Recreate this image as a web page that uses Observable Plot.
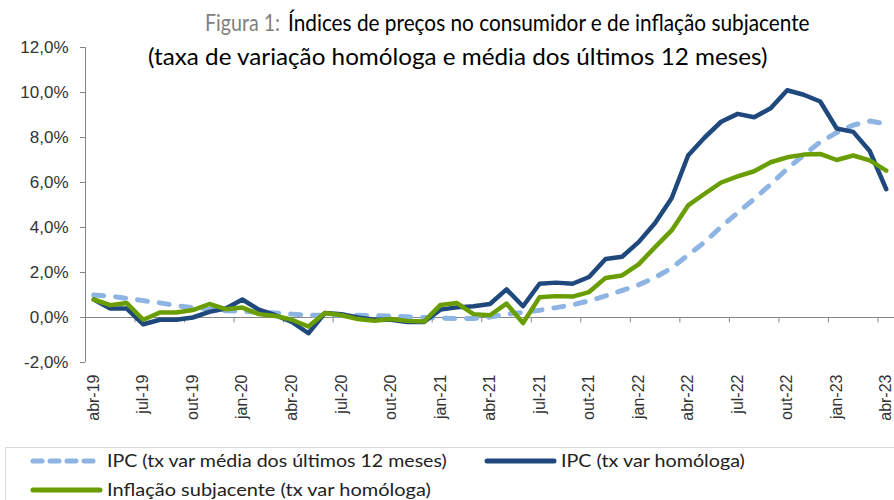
<!DOCTYPE html>
<html>
<head>
<meta charset="utf-8">
<script src="https://cdn.jsdelivr.net/npm/d3@7"></script>
<script src="https://cdn.jsdelivr.net/npm/@observablehq/plot@0.6"></script>
<style>
  body { margin: 0; background: #fff; }
  #wrap { position: relative; width: 894px; height: 500px; overflow: hidden; }
  #chart, #over { position: absolute; left: 0; top: 0; }
</style>
</head>
<body>
<div id="wrap"><div id="chart"></div><svg id="over" width="894" height="500"></svg></div>
<script>
const meses = ["abr-19","mai-19","jun-19","jul-19","ago-19","set-19","out-19","nov-19","dez-19",
  "jan-20","fev-20","mar-20","abr-20","mai-20","jun-20","jul-20","ago-20","set-20","out-20","nov-20","dez-20",
  "jan-21","fev-21","mar-21","abr-21","mai-21","jun-21","jul-21","ago-21","set-21","out-21","nov-21","dez-21",
  "jan-22","fev-22","mar-22","abr-22","mai-22","jun-22","jul-22","ago-22","set-22","out-22","nov-22","dez-22",
  "jan-23","fev-23","mar-23","abr-23"];

const ipcMedia12 = [1.0,0.95,0.85,0.75,0.65,0.53,0.44,0.37,0.3,
  0.28,0.24,0.2,0.15,0.1,0.1,0.1,0.1,0.08,0.06,0.03,0.0,
  -0.03,-0.05,-0.04,0.02,0.15,0.22,0.32,0.44,0.56,0.74,0.96,1.2,
  1.45,1.78,2.2,2.78,3.35,4.03,4.66,5.27,5.92,6.61,7.22,7.8,
  8.22,8.55,8.73,8.6];

const ipcHomologa = [0.8,0.4,0.4,-0.3,-0.1,-0.1,0.0,0.25,0.4,
  0.8,0.35,0.1,-0.2,-0.7,0.2,0.15,0.0,-0.1,-0.1,-0.2,-0.2,
  0.35,0.45,0.5,0.6,1.25,0.5,1.5,1.55,1.5,1.8,2.6,2.7,
  3.35,4.2,5.3,7.2,8.0,8.7,9.05,8.9,9.3,10.1,9.9,9.6,
  8.4,8.25,7.4,5.7];

const inflacaoSubjacente = [0.8,0.55,0.64,-0.1,0.22,0.22,0.33,0.6,0.37,
  0.44,0.15,0.07,-0.1,-0.4,0.2,0.1,-0.07,-0.15,-0.07,-0.15,-0.18,
  0.56,0.64,0.15,0.1,0.62,-0.25,0.9,0.95,0.93,1.13,1.76,1.87,
  2.36,3.13,3.87,4.98,5.5,6.0,6.27,6.5,6.9,7.12,7.24,7.27,
  7.0,7.2,6.98,6.53];

const yTicks = [-2,0,2,4,6,8,10,12];
const seriesNames = ["IPC (tx var média dos últimos 12 meses)", "IPC (tx var homóloga)", "Inflação subjacente (tx var homóloga)"];
const titleLine1a = "Figura 1:";
const titleLine1b = "Índices de preços no consumidor e de inflação subjacente";
const titleLine2 = "(taxa de variação homóloga e média dos últimos 12 meses)";

const colLight = "#8db4e2", colBlue = "#1f497d", colGreen = "#6a9e00", axisCol = "#868686";

const idx = meses.map((_, i) => i);
const labelIdx = idx.filter(i => i % 3 === 0);
const boundaries = d3.range(2.5, meses.length - 1, 3);

const rows = (vals) => vals.map((v, i) => ({i, v}));

const plot = Plot.plot({
  width: 894, height: 440,
  marginLeft: 85, marginRight: 0, marginTop: 47, marginBottom: 78,
  style: {fontFamily: "'Liberation Sans', Arial, sans-serif", color: "#333", background: "transparent"},
  x: {type: "linear", domain: [-0.5, meses.length - 0.5], axis: null},
  y: {domain: [-2, 12], axis: null},
  marks: [
    Plot.ruleY([0], {stroke: axisCol, strokeWidth: 1}),
    Plot.ruleX([-0.5], {y1: -2, y2: 12, stroke: axisCol, strokeWidth: 1}),
    Plot.ruleX(boundaries, {x: d => d, y1: 0, y2: -0.24, stroke: axisCol, strokeWidth: 1}),
    Plot.axisY({ticks: yTicks, label: null, tickFormat: d => d.toFixed(1).replace(".", ",") + "%", tickSize: 5, tickPadding: 12, fontSize: 17, stroke: axisCol, color: "#333"}),
    Plot.axisX({ticks: labelIdx, label: null, tickFormat: i => meses[i], tickRotate: -90, tickSize: 0, tickPadding: 12, fontSize: 16, anchor: "bottom", color: "#333"}),
    Plot.line(rows(ipcMedia12), {x: "i", y: "v", stroke: colLight, strokeWidth: 5, strokeDasharray: "10,12", strokeLinecap: "round", strokeLinejoin: "round"}),
    Plot.line(rows(ipcHomologa), {x: "i", y: "v", stroke: colBlue, strokeWidth: 4.5, strokeLinejoin: "round"}),
    Plot.line(rows(inflacaoSubjacente), {x: "i", y: "v", stroke: colGreen, strokeWidth: 4.5, strokeLinejoin: "round"})
  ]
});
document.getElementById("chart").appendChild(plot);

// overlay: title and legend, each text horizontally scaled to its target width
const over = d3.select("#over");
const tfont = "Lato, 'Open Sans', sans-serif";
function fitText(str, x, y, size, width, fill) {
  const t = over.append("text").attr("x", 0).attr("y", 0).attr("font-family", tfont)
    .attr("font-size", size).attr("fill", fill).text(str);
  const natural = t.node().getComputedTextLength();
  const sx = natural > 0 ? width / natural : 1;
  t.attr("transform", `translate(${x},${y}) scale(${sx},1)`);
  return t;
}
fitText(titleLine1a, 205, 31, 24, 75, "#7f7f7f");
fitText(titleLine1b, 288, 31, 24, 522, "#000");
fitText(titleLine2, 148, 65, 24, 620, "#000");

over.append("rect").attr("x", 5.5).attr("y", 447.5).attr("width", 900).attr("height", 60)
  .attr("fill", "none").attr("stroke", "#d9d9d9");

const leg = [
  {name: seriesNames[0], x: 30, y: 461, col: colLight, dash: "9,8", len: 340},
  {name: seriesNames[1], x: 484, y: 461, col: colBlue, dash: null, len: 184},
  {name: seriesNames[2], x: 30, y: 490, col: colGreen, dash: null, len: 324}
];
leg.forEach(d => {
  over.append("line").attr("x1", d.x + 3).attr("x2", d.x + 70).attr("y1", d.y).attr("y2", d.y)
    .attr("stroke", d.col).attr("stroke-width", 5).attr("stroke-linecap", "round")
    .attr("stroke-dasharray", d.dash);
  fitText(d.name, d.x + 77, d.y + 6, 18, d.len, "#222");
});
</script>
</body>
</html>
